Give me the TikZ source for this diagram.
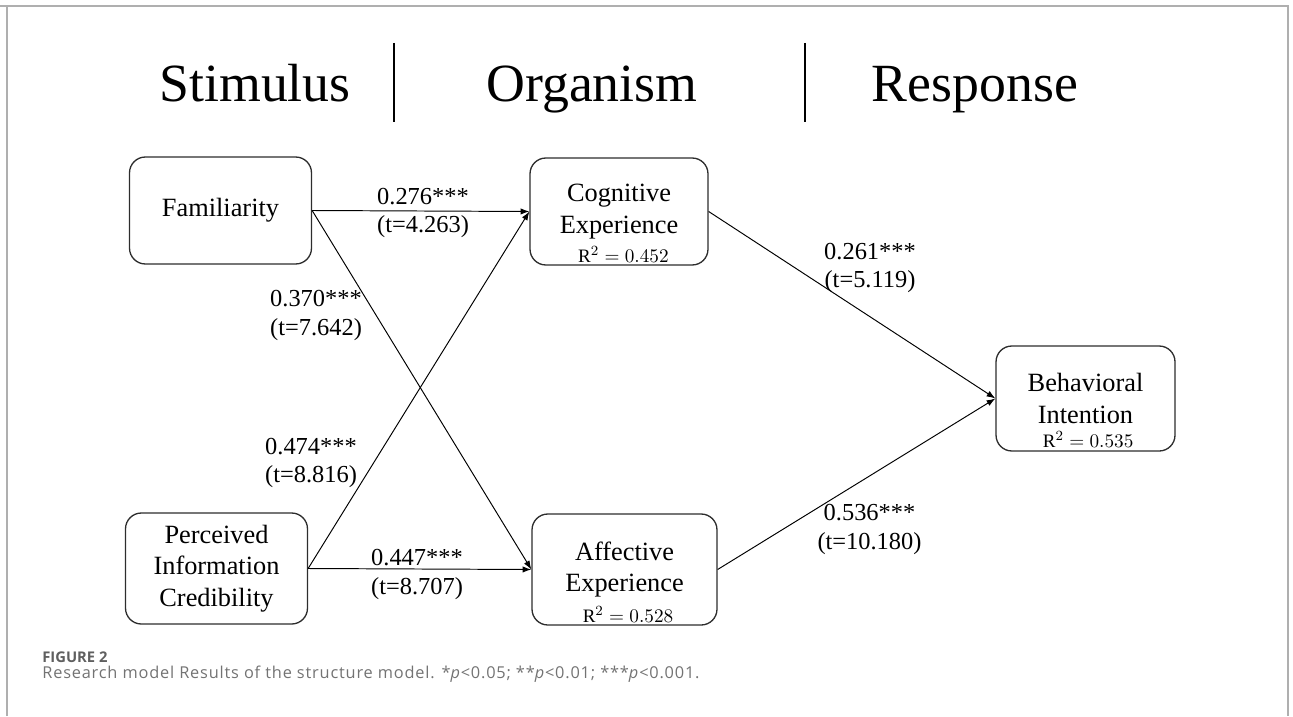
\documentclass[tikz,border=0pt]{standalone}
\usepackage{fontspec}
\setmainfont{Liberation Serif}
\newfontfamily\figfont{Open Sans}
\newfontfamily\capfont{Open Sans}[LetterSpace=5]
\usepackage{xcolor}
\definecolor{capgray}{RGB}{115,115,115}
\definecolor{figgray}{RGB}{95,95,95}
\definecolor{framegray}{RGB}{175,175,175}
\definecolor{boxgray}{RGB}{45,45,45}
\usetikzlibrary{arrows.meta,positioning}

\begin{document}
\begin{tikzpicture}[x=0.02cm,y=-0.02cm,
  box/.style={draw=boxgray,line width=0.75pt,rounded corners=9pt,minimum width=3.64cm,minimum height=2.14cm,font=\fontsize{15}{17.8}\selectfont,align=center},
  rsq/.style={font=\fontsize{10.8}{12}\selectfont,anchor=base},
  coef/.style={font=\fontsize{13.9}{16}\selectfont,align=center},
  head/.style={font=\fontsize{30.6}{36}\selectfont,anchor=base},
  arr/.style={-{Latex[length=5pt,width=3.6pt]},line width=0.55pt}]
  \useasboundingbox (0,0) rectangle (1293,716);
  % frame
  \draw[framegray,line width=0.8pt] (7,716) -- (7,6) -- (1288,6) -- (1288,716);
  \draw[framegray,line width=0.8pt] (0,6) -- (7,6);
  % S-O-R heading
  \node[head] (stim) at (255,102) {Stimulus};
  \node[head] (org) at (592,102) {Organism};
  \node[head] (resp) at (975,102) {Response};
  \draw[line width=0.9pt] (394,43) -- (394,122);
  \draw[line width=0.9pt] (805,43) -- (805,122);
  % constructs
  \node[box] (fam) at (220.5,210.5) {Familiarity};
  \node[box,minimum width=3.56cm] (cog) at (619,211.5) {Cognitive\\Experience};
  \node[box,minimum height=2.22cm] (pic) at (216.5,568.5) {Perceived\\Information\\Credibility};
  \node[box,minimum width=3.7cm,minimum height=2.22cm] (aff) at (624.5,569.5) {Affective\\Experience};
  \node[box,minimum width=3.58cm,minimum height=2.1cm] (beh) at (1085.5,398.5) {Behavioral\\Intention};
  \node[rsq] (cogr) at ([xshift=2.5pt,yshift=1.7pt]cog.south) {$\mathrm{R}^2 = 0.452$};
  \node[rsq] (affr) at ([xshift=2pt,yshift=1.7pt]aff.south) {$\mathrm{R}^2 = 0.528$};
  \node[rsq] (behr) at ([xshift=1.5pt,yshift=2.2pt]beh.south) {$\mathrm{R}^2 = 0.535$};
  % paths
  \draw[arr] (fam.east) -- (cog.west);
  \draw[arr] (fam.east) -- (aff.west);
  \draw[arr] (pic.east) -- (cog.west);
  \draw[arr] (pic.east) -- (aff.west);
  \draw[arr] (cog.east) -- (beh.west);
  \draw[arr] (aff.east) -- (beh.west);
  % path coefficients
  \node[coef] (c1) at (423,213) {0.276***\\(t=4.263)};
  \node[coef] (c2) at (316,315.5) {0.370***\\(t=7.642)};
  \node[coef] (c3) at (311,463) {0.474***\\(t=8.816)};
  \node[coef] (c4) at (417,574.5) {0.447***\\(t=8.707)};
  \node[coef] (c5) at (870,268) {0.261***\\(t=5.119)};
  \node[coef] (c6) at (869.5,529.5) {0.536***\\(t=10.180)};
  % caption
  \node[anchor=base west,figgray,font=\figfont\bfseries\fontsize{8.4}{10}\selectfont,inner sep=0pt] (fig) at (42,662) {FIGURE 2};
  \node[anchor=base west,capgray,font=\capfont\fontsize{9.3}{10}\selectfont,inner sep=0pt] (cap) at (42,678) {Research model Results of the structure model. *\textit{p}<0.05; **\textit{p}<0.01; ***\textit{p}<0.001.};
\end{tikzpicture}
\end{document}
